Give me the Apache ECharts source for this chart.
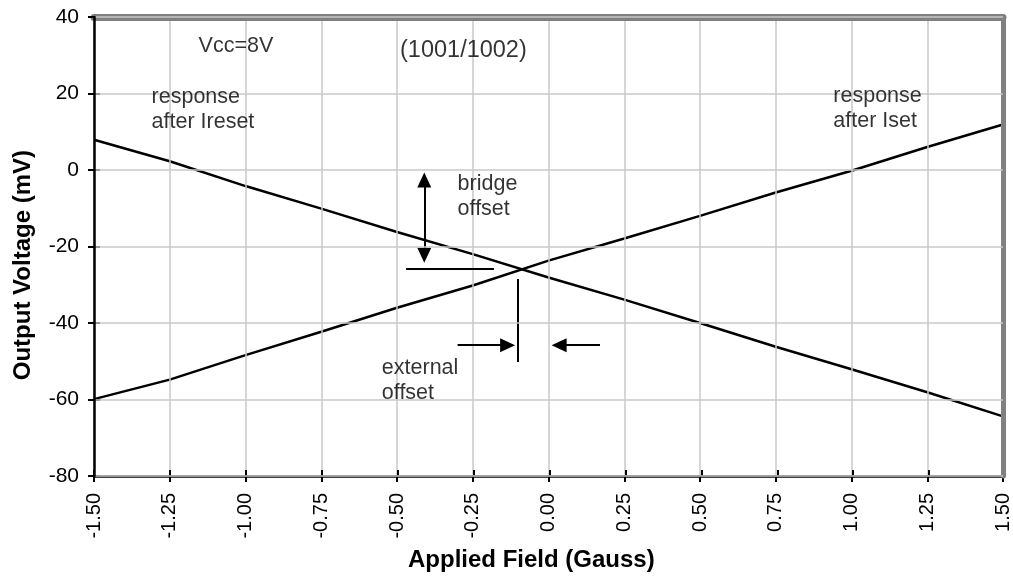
<!DOCTYPE html>
<html>
<head>
<meta charset="utf-8">
<title>Output Voltage vs Applied Field</title>
<script src="https://cdn.jsdelivr.net/npm/echarts@6/dist/echarts.min.js"></script>
<style>
  html, body { margin: 0; padding: 0; background: #fff; }
  #chart { width: 1013px; height: 576px; }
</style>
</head>
<body>
<div id="chart"></div>
<script>
// Applied field (Gauss) sample points
const fieldValues = [-1.5, -1.25, -1.0, -0.75, -0.5, -0.25, 0.0, 0.25, 0.5, 0.75, 1.0, 1.25, 1.5];
// Output voltage (mV) after the Iset pulse
const afterIset = [-59.9, -54.8, -48.4, -42.3, -36.0, -30.2, -23.7, -17.9, -12.0, -5.9, -0.2, 6.0, 11.9];
// Output voltage (mV) after the Ireset pulse
const afterIreset = [7.9, 2.3, -4.2, -10.1, -16.2, -22.0, -28.1, -33.9, -40.0, -46.2, -52.1, -58.1, -64.4];

// Axis ranges
const xRange = { min: -1.5, max: 1.5, step: 0.25 };
const yRange = { min: -80, max: 40, step: 20 };

// Part number note: [field, mV, text]
const partNote = [[-0.49, 31.3, '(1001/1002)']];

// Text notes: [field, mV, text]
const notes = [
  [-1.155, 32.4, 'Vcc=8V'],
  [-1.31, 15.7, 'response\nafter Ireset'],
  [0.94, 16.0, 'response\nafter Iset'],
  [-0.30, -7.0, 'bridge\noffset'],
  [-0.55, -55.1, 'external\noffset']
];

// Offset markers: [x1, y1, x2, y2, startSymbol, endSymbol]
const offsetMarks = [
  [-0.41, -2.6, -0.41, -22.3, 'triangle', 'triangle'],
  [-0.30, -45.8, -0.135, -45.8, 'none', 'triangle'],
  [0.17, -45.8, 0.035, -45.8, 'none', 'triangle'],
  [-0.47, -25.8, -0.18, -25.8, 'none', 'none'],
  [-0.10, -28.5, -0.10, -50.2, 'none', 'none']
];

const FONT = '"Liberation Sans", Arial, Helvetica, sans-serif';
const TXT = '#000';

const gridBox = { left: 94, right: 8, top: 17, bottom: 100 };

function pairs(xs, ys) { return xs.map((x, i) => [x, ys[i]]); }

function noteSeries(name, rows, size) {
  return {
    name: name, type: 'scatter', xAxisIndex: 0, yAxisIndex: 0,
    symbolSize: 0, silent: true, z: 12,
    data: rows.map(n => ({ value: [n[0], n[1]], text: n[2] })),
    label: {
      show: true, position: 'right', distance: 0, align: 'left',
      fontSize: size, lineHeight: 25, color: TXT, fontFamily: FONT,
      formatter: p => p.data.text
    }
  };
}

const chart = echarts.init(document.getElementById('chart'), null, { renderer: 'canvas' });

const baseX = { type: 'value', min: xRange.min, max: xRange.max, interval: xRange.step };
const baseY = { type: 'value', min: yRange.min, max: yRange.max, interval: yRange.step };
const noDecor = { axisTick: { show: false }, axisLabel: { show: false }, splitLine: { show: false } };

chart.setOption({
  backgroundColor: '#fff',
  animation: false,
  textStyle: { fontFamily: FONT },
  grid: [
    Object.assign({}, gridBox),
    Object.assign({}, gridBox)
  ],
  xAxis: [
    Object.assign({}, baseX, {
      gridIndex: 0, position: 'bottom', z: 5,
      axisLine: { onZero: false, lineStyle: { color: '#000', width: 2.5 } },
      axisTick: { length: 6, lineStyle: { color: '#000', width: 2 } },
      axisLabel: {
        rotate: 90, margin: 17, fontSize: 20, color: TXT, fontFamily: FONT,
        formatter: v => v.toFixed(2)
      },
      splitLine: { show: true, lineStyle: { color: '#c8c8c8', width: 1.5 } }
    }),
    // grey frame edge along the top
    Object.assign({}, baseX, noDecor, {
      gridIndex: 0, position: 'top', z: 8,
      axisLine: { show: true, onZero: false, lineStyle: { color: '#808080', width: 7 } }
    }),
    Object.assign({}, baseX, {
      gridIndex: 1, position: 'bottom', z: 6,
      axisLine: { show: false, onZero: false },
      axisTick: { inside: true, length: 6, lineStyle: { color: '#000', width: 2 } },
      axisLabel: { show: false }, splitLine: { show: false }
    })
  ],
  yAxis: [
    Object.assign({}, baseY, {
      gridIndex: 0, position: 'left', z: 9,
      axisLine: { show: true, onZero: false, lineStyle: { color: '#000', width: 2.5 } },
      axisTick: { show: true, length: 6, lineStyle: { color: '#000', width: 2 } },
      axisLabel: { margin: 15, fontSize: 21, color: TXT, fontFamily: FONT },
      splitLine: { show: true, lineStyle: { color: '#c8c8c8', width: 1.5 } }
    }),
    // grey frame edge along the right side
    Object.assign({}, baseY, noDecor, {
      gridIndex: 0, position: 'right', z: 8,
      axisLine: { show: true, onZero: false, lineStyle: { color: '#808080', width: 5 } }
    }),
    Object.assign({}, baseY, {
      gridIndex: 1, position: 'left', z: 6,
      axisLine: { show: false, onZero: false },
      axisTick: { show: true, inside: true, length: 6, lineStyle: { color: '#000', width: 2 } },
      axisLabel: { show: false }, splitLine: { show: false }
    })
  ],
  graphic: [
    {
      type: 'text', left: 11, top: 150, rotation: Math.PI / 2,
      style: { text: 'Output Voltage (mV)', fill: TXT, font: 'bold 24px ' + FONT }
    },
    {
      type: 'text', left: 408, top: 548,
      style: { text: 'Applied Field (Gauss)', fill: TXT, font: 'bold 24px ' + FONT }
    }
  ],
  series: [
    {
      name: 'response after Iset', type: 'line', xAxisIndex: 0, yAxisIndex: 0,
      data: pairs(fieldValues, afterIset), showSymbol: false, symbol: 'none',
      lineStyle: { color: '#000', width: 2.5 }, z: 3
    },
    {
      name: 'response after Ireset', type: 'line', xAxisIndex: 0, yAxisIndex: 0,
      data: pairs(fieldValues, afterIreset), showSymbol: false, symbol: 'none',
      lineStyle: { color: '#000', width: 2.5 }, z: 3
    },
    {
      name: 'offset markers', type: 'line', xAxisIndex: 0, yAxisIndex: 0, data: [], z: 12,
      markLine: {
        silent: true, animation: false, precision: 3,
        symbolSize: [14, 15],
        label: { show: false },
        lineStyle: { color: '#000', width: 2, type: 'solid' },
        itemStyle: { color: '#000' },
        emphasis: { disabled: true },
        data: offsetMarks.map(m => [
          { coord: [m[0], m[1]], symbol: m[4] },
          { coord: [m[2], m[3]], symbol: m[5] }
        ])
      }
    },
    noteSeries('notes', notes, 21.5),
    noteSeries('part', partNote, 23.5)
  ]
});
</script>
</body>
</html>
